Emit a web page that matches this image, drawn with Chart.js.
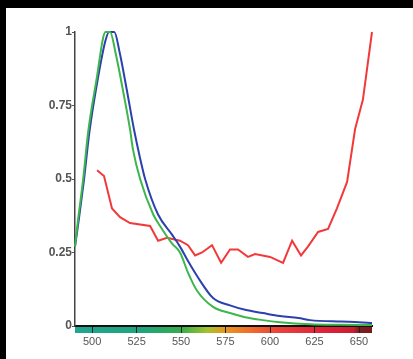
<!DOCTYPE html>
<html>
<head>
<meta charset="utf-8">
<script src="https://cdn.jsdelivr.net/npm/chart.js@4.4.1/dist/chart.umd.min.js"></script>
<style>
  html, body { margin: 0; padding: 0; background: #000; }
  #wrap { position: absolute; left: 6px; top: 8px; width: 407px; height: 351px; background: #fff; }
  canvas { display: block; }
</style>
</head>
<body>
<div id="wrap"><canvas id="c" width="407" height="351"></canvas></div>
<script>
// ---- data ----
const greenWavelengths = [490.4, 492.1, 495, 497.8, 502.8, 506.2, 507.5, 510.1, 513.5, 517.4, 521.3, 523, 527, 534.3, 538.2, 545, 549.4, 554, 559, 568, 577.5, 586, 596, 605.6, 622.5, 640, 657.3];
const greenValues      = [0.27, 0.36, 0.50, 0.66, 0.85, 0.98, 1.0, 1.0, 0.92, 0.80, 0.67, 0.60, 0.50, 0.38, 0.34, 0.28, 0.25, 0.18, 0.12, 0.065, 0.044, 0.03, 0.02, 0.013, 0.006, 0.004, 0.003];

const blueWavelengths  = [490.4, 492.5, 495.5, 498.5, 503.5, 507.5, 509.5, 512.5, 515.5, 519.6, 523.5, 527, 529.8, 537, 545, 549.4, 554, 559, 568, 577.5, 586, 596, 605.6, 616, 622.5, 640, 650, 657.3];
const blueValues       = [0.27, 0.36, 0.50, 0.66, 0.85, 0.97, 1.0, 1.0, 0.93, 0.80, 0.67, 0.57, 0.50, 0.38, 0.31, 0.27, 0.22, 0.17, 0.095, 0.07, 0.055, 0.044, 0.034, 0.027, 0.02, 0.015, 0.013, 0.01];

const redWavelengths   = [502.8, 506.7, 511.2, 515.7, 521.3, 532.6, 537.1, 542.1, 549.4, 553.9, 557.9, 561.8, 567.4, 572.5, 577.5, 582.0, 587.6, 591.6, 600, 607.3, 612.4, 617.4, 621.3, 627, 632.6, 637.6, 643.3, 647.8, 652.2, 657.3];
const redValues        = [0.53, 0.51, 0.40, 0.37, 0.35, 0.34, 0.29, 0.30, 0.29, 0.275, 0.24, 0.25, 0.275, 0.215, 0.26, 0.26, 0.235, 0.245, 0.235, 0.215, 0.29, 0.24, 0.27, 0.32, 0.33, 0.40, 0.49, 0.67, 0.77, 1.0];

const xTickValues = [500, 525, 550, 575, 600, 625, 650];
const yTickValues = [0, 0.25, 0.5, 0.75, 1];
const yTickLabels = ['0', '0.25', '0.5', '0.75', '1'];

// spectrum strip colours (wavelength, colour)
const spectrumStops = [
  [490, '#1fa592'], [530, '#1fa57a'], [550, '#35ad4c'], [565, '#a6c22e'],
  [575, '#e8961f'], [590, '#ef6a2c'], [605, '#e9423a'], [630, '#df2238'],
  [647, '#c81e30'], [650, '#7e1c1e'], [657, '#7a1a1c']
];

const toPoints = (xs, ys) => xs.map((x, i) => ({ x: x, y: ys[i] }));

const spectrumBar = {
  id: 'spectrumBar',
  beforeDraw(chart) {
    const { ctx, chartArea } = chart;
    const xs = chart.scales.x;
    const l = chartArea.left, r = chartArea.right;
    const g = ctx.createLinearGradient(l, 0, r, 0);
    spectrumStops.forEach(([w, c]) => {
      const p = (xs.getPixelForValue(w) - l) / (r - l);
      g.addColorStop(Math.min(1, Math.max(0, p)), c);
    });
    ctx.save();
    ctx.fillStyle = g;
    ctx.fillRect(l, chartArea.bottom, r - l, 7);
    ctx.restore();
  }
};

new Chart(document.getElementById('c'), {
  type: 'line',
  data: {
    datasets: [
      { label: 'green', data: toPoints(greenWavelengths, greenValues), borderColor: '#3db64c', borderWidth: 2, pointRadius: 0, tension: 0.2, cubicInterpolationMode: 'monotone', fill: false },
      { label: 'blue', data: toPoints(blueWavelengths, blueValues), borderColor: '#2c40ae', borderWidth: 2, pointRadius: 0, tension: 0.2, cubicInterpolationMode: 'monotone', fill: false },
      { label: 'red', data: toPoints(redWavelengths, redValues), borderColor: '#f2393a', borderWidth: 2, pointRadius: 0, tension: 0, fill: false }
    ]
  },
  options: {
    responsive: false,
    animation: false,
    clip: false,
    layout: { padding: { left: 0, top: 24, right: 41, bottom: 0 } },
    plugins: { legend: { display: false }, tooltip: { enabled: false } },
    scales: {
      x: {
        type: 'linear',
        min: 490.4,
        max: 657.3,
        afterBuildTicks: (s) => { s.ticks = xTickValues.map(v => ({ value: v })); },
        afterFit: (s) => { s.height = 33; },
        grid: { display: true, drawOnChartArea: false, drawTicks: true, tickLength: 7, color: '#222', lineWidth: 1 },
        border: { display: true, color: '#111', width: 2 },
        ticks: { color: '#555', font: { family: 'Liberation Sans, Arial', size: 11 }, padding: 2, maxRotation: 0 }
      },
      y: {
        min: 0,
        max: 1,
        afterBuildTicks: (s) => { s.ticks = yTickValues.map(v => ({ value: v })); },
        afterFit: (s) => { s.width = 69; },
        grid: { display: true, drawOnChartArea: false, drawTicks: true, tickLength: 3, color: '#555', lineWidth: 1 },
        border: { display: true, color: '#444', width: 1.5 },
        ticks: {
          color: '#555',
          font: { family: 'Liberation Sans, Arial', size: 12, weight: 'bold' },
          padding: 0,
          callback: (v) => { const i = yTickValues.indexOf(v); return i >= 0 ? yTickLabels[i] : ''; }
        }
      }
    }
  },
  plugins: [spectrumBar]
});
</script>
</body>
</html>
